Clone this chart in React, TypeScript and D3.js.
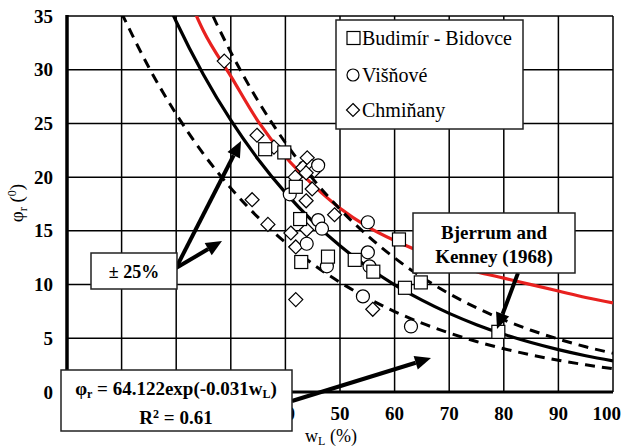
import * as d3 from "d3"
import React, { useEffect, useRef } from "react"

const width = 622
const height = 448
const margin = { left: 67, right: 9, top: 16, bottom: 56 }

const xTicks = [0, 10, 20, 30, 40, 50, 60, 70, 80, 90, 100]
const yTicks = [0, 5, 10, 15, 20, 25, 30, 35]

// Budimír - Bidovce (squares)
const budimirW = [36.3, 39.8, 41.9, 42.7, 42.9, 47.8, 52.7, 56.1, 60.8, 61.9, 64.8, 79.0]
const budimirPhi = [22.6, 22.3, 19.1, 16.1, 12.1, 12.6, 12.3, 11.2, 14.2, 9.7, 10.2, 5.6]

// Višňové (circles)
const visnoveW = [40.8, 46.0, 46.0, 46.7, 43.9, 47.6, 55.1, 55.1, 55.4, 54.2, 63.0]
const visnovePhi = [18.4, 21.1, 16.0, 15.2, 13.8, 11.7, 15.8, 13.0, 11.7, 8.9, 6.1]

// Chmiňany (diamonds)
const chminanyW = [28.8, 34.8, 37.9, 44.0, 43.2, 44.9, 45.3, 43.8, 41.8, 44.9, 43.8, 33.9, 36.8, 41.0, 43.9, 49.0, 41.9, 41.9, 56.0]
const chminanyPhi = [30.8, 23.9, 22.8, 21.8, 20.9, 21.0, 20.6, 20.4, 20.0, 18.9, 17.8, 17.9, 15.6, 14.8, 15.1, 16.5, 13.5, 8.6, 7.7]

// fitted curve phi_r = 64.122exp(-0.031wL) and its +-25% band
const fitW = [10, 15, 20, 25, 30, 35, 40, 45, 50, 55, 60, 65, 70, 75, 80, 85, 90, 95, 100]
const fitPhi = [47.03, 40.28, 34.49, 29.54, 25.3, 21.67, 18.56, 15.89, 13.61, 11.66, 9.98, 8.55, 7.32, 6.27, 5.37, 4.6, 3.94, 3.37, 2.89]
const upperPhi = [58.79, 50.35, 43.11, 36.93, 31.63, 27.09, 23.2, 19.86, 17.01, 14.58, 12.48, 10.69, 9.15, 7.84, 6.71, 5.75, 4.93, 4.21, 3.61]
const lowerPhi = [35.27, 30.21, 25.87, 22.16, 18.98, 16.25, 13.92, 11.92, 10.21, 8.75, 7.49, 6.41, 5.49, 4.7, 4.03, 3.45, 2.96, 2.53, 2.17]

// Bjerrum and Kenney (1968)
const bjerrumW = [22, 25, 30, 35, 40, 45, 50, 55, 60, 65, 70, 75, 80, 85, 90, 95, 100]
const bjerrumPhi = [37.0, 33.6, 29.4, 25.2, 21.9, 19.3, 17.1, 15.4, 14.1, 13.0, 12.0, 11.2, 10.6, 10.0, 9.4, 8.8, 8.3]

const legendLabels = ["Budimír - Bidovce", "Višňové", "Chmiňany"]

const serif = '"Liberation Serif", "DejaVu Serif", serif'

const App = () => {
  const ref = useRef(null)

  useEffect(() => {
    const svg = d3.select(ref.current)
    svg.selectAll("*").remove()

    const x = d3.scaleLinear().domain([0, 100]).range([margin.left, width - margin.right])
    const y = d3.scaleLinear().domain([0, 35]).range([height - margin.bottom, margin.top])
    const x0 = x(0), x1 = x(100), y0 = y(0), y1 = y(35)

    svg.append("defs").append("clipPath").attr("id", "plotclip")
      .append("rect").attr("x", x0).attr("y", y1).attr("width", x1 - x0).attr("height", y0 - y1)

    // grid
    const grid = svg.append("g").attr("stroke", "#000").attr("stroke-width", 1.5)
    xTicks.forEach(t => {
      grid.append("line").attr("x1", x(t)).attr("x2", x(t)).attr("y1", y1).attr("y2", y0)
    })
    yTicks.forEach(t => {
      grid.append("line").attr("x1", x0).attr("x2", x1).attr("y1", y(t)).attr("y2", y(t))
    })
    svg.append("line").attr("x1", x0).attr("x2", x0).attr("y1", y1 - 1).attr("y2", y0 + 1)
      .attr("stroke", "#000").attr("stroke-width", 3.5)
    svg.append("line").attr("x1", x0).attr("x2", x1).attr("y1", y0).attr("y2", y0)
      .attr("stroke", "#000").attr("stroke-width", 3)

    // tick labels
    svg.append("g").selectAll("text").data(yTicks).join("text")
      .attr("x", 53).attr("y", d => y(d) + 6.5)
      .attr("text-anchor", "end").attr("font-weight", "bold")
      .attr("font-size", 19).text(d => d)
    svg.append("g").selectAll("text").data(xTicks).join("text")
      .attr("x", d => (d === 100 ? 621 : x(d))).attr("y", 420)
      .attr("text-anchor", d => (d === 100 ? "end" : "middle"))
      .attr("font-weight", "bold")
      .attr("font-size", 19).text(d => d)

    // axis titles
    const xl = svg.append("text").attr("x", 331).attr("y", 442).attr("text-anchor", "middle")
      .attr("font-size", 18)
    xl.append("tspan").text("w")
    xl.append("tspan").attr("font-size", 12).attr("dy", 3).text("L")
    xl.append("tspan").attr("dy", -3).text(" (%)")

    const yl = svg.append("text").attr("transform", "translate(23,203) rotate(-90)")
      .attr("text-anchor", "middle").attr("font-size", 19)
    yl.append("tspan").text("φ")
    yl.append("tspan").attr("font-size", 12).attr("dy", 4).text("r")
    yl.append("tspan").attr("dy", -4).text(" (")
    yl.append("tspan").attr("font-size", 12).attr("dy", -7).text("0")
    yl.append("tspan").attr("dy", 7).text(")")

    // curves
    const line = d3.line().curve(d3.curveMonotoneX).x(d => x(d[0])).y(d => y(d[1]))
    const curves = svg.append("g").attr("clip-path", "url(#plotclip)").attr("fill", "none")
    curves.append("path").attr("d", line(bjerrumW.map((w, i) => [w, bjerrumPhi[i]])))
      .attr("stroke", "#e8211f").attr("stroke-width", 3.2)
    curves.append("path").attr("d", line(fitW.map((w, i) => [w, upperPhi[i]])))
      .attr("stroke", "#000").attr("stroke-width", 3).attr("stroke-dasharray", "10,7")
    curves.append("path").attr("d", line(fitW.map((w, i) => [w, lowerPhi[i]])))
      .attr("stroke", "#000").attr("stroke-width", 3).attr("stroke-dasharray", "10,7")
    curves.append("path").attr("d", line(fitW.map((w, i) => [w, fitPhi[i]])))
      .attr("stroke", "#000").attr("stroke-width", 3.2)

    // markers
    const mk = svg.append("g").attr("fill", "#fff").attr("stroke", "#000").attr("stroke-width", 1.2)
    const sq = 13
    const diamond = (cx, cy, r) => `M${cx},${cy - r}L${cx + r},${cy}L${cx},${cy + r}L${cx - r},${cy}Z`
    chminanyW.forEach((w, i) => {
      mk.append("path").attr("d", diamond(x(w), y(chminanyPhi[i]), 7))
    })
    visnoveW.forEach((w, i) => {
      mk.append("circle").attr("cx", x(w)).attr("cy", y(visnovePhi[i])).attr("r", 6.5)
    })
    budimirW.forEach((w, i) => {
      mk.append("rect").attr("x", x(w) - sq / 2).attr("y", y(budimirPhi[i]) - sq / 2)
        .attr("width", sq).attr("height", sq)
    })

    // arrows
    const arrow = (ax, ay, bx, by) => {
      const ang = Math.atan2(by - ay, bx - ax)
      const hl = 16, hw = 7
      const cx = bx - hl * Math.cos(ang), cy = by - hl * Math.sin(ang)
      svg.append("line").attr("x1", ax).attr("y1", ay).attr("x2", cx).attr("y2", cy)
        .attr("stroke", "#000").attr("stroke-width", 4)
      const px = -Math.sin(ang) * hw, py = Math.cos(ang) * hw
      svg.append("path").attr("d", `M${bx},${by}L${cx + px},${cy + py}L${cx - px},${cy - py}Z`)
        .attr("fill", "#000")
    }

    const box = (bx, by, bw, bh) =>
      svg.append("rect").attr("x", bx).attr("y", by).attr("width", bw).attr("height", bh)
        .attr("fill", "#fff").attr("stroke", "#222").attr("stroke-width", 1.5)

    // legend
    box(336, 20, 187, 109)
    const lg = svg.append("g").attr("font-size", 20)
    const rows = [38, 75, 110]
    lg.append("rect").attr("x", 347).attr("y", rows[0] - 6.5).attr("width", 13).attr("height", 13)
      .attr("fill", "#fff").attr("stroke", "#000").attr("stroke-width", 1.2)
    lg.append("circle").attr("cx", 353).attr("cy", rows[1]).attr("r", 6)
      .attr("fill", "#fff").attr("stroke", "#000").attr("stroke-width", 1.2)
    lg.append("path").attr("d", diamond(353, rows[2], 6.5))
      .attr("fill", "#fff").attr("stroke", "#000").attr("stroke-width", 1.2)
    legendLabels.forEach((l, i) => {
      lg.append("text").attr("x", 362).attr("y", rows[i] + 7).text(l)
    })

    // +-25% annotation
    arrow(176, 268, 241, 141)
    arrow(176, 268, 222, 241)
    box(91, 253, 86, 36)
    svg.append("text").attr("x", 134).attr("y", 278).attr("text-anchor", "middle")
      .attr("font-weight", "bold").attr("font-size", 18).text("± 25%")

    // equation annotation
    arrow(292, 401, 431, 358)
    box(61, 370, 231, 61)
    const eq = svg.append("text").attr("x", 176).attr("y", 395).attr("text-anchor", "middle")
      .attr("font-weight", "bold").attr("font-size", 19)
    eq.append("tspan").text("φ")
    eq.append("tspan").attr("font-size", 12).attr("dy", 3).text("r")
    eq.append("tspan").attr("dy", -3).text(" = 64.122exp(-0.031w")
    eq.append("tspan").attr("font-size", 12).attr("dy", 3).text("L")
    eq.append("tspan").attr("dy", -3).text(")")
    const r2 = svg.append("text").attr("x", 176).attr("y", 424).attr("text-anchor", "middle")
      .attr("font-weight", "bold").attr("font-size", 19)
    r2.append("tspan").text("R")
    r2.append("tspan").attr("font-size", 12).attr("dy", -6).text("2")
    r2.append("tspan").attr("dy", 6).text(" = 0.61")

    // Bjerrum annotation
    arrow(518, 273, 497, 329)
    box(413, 213, 162, 60)
    svg.append("text").attr("x", 494).attr("y", 239).attr("text-anchor", "middle")
      .attr("font-weight", "bold").attr("font-size", 19).text("Bjerrum and")
    svg.append("text").attr("x", 494).attr("y", 263).attr("text-anchor", "middle")
      .attr("font-weight", "bold").attr("font-size", 19).text("Kenney (1968)")
  }, [])

  return (
    <svg
      ref={ref}
      width={width}
      height={height}
      viewBox={`0 0 ${width} ${height}`}
      style={{ position: "absolute", left: 0, top: 0, background: "#fff", fontFamily: serif }}
    />
  )
}

export default App
